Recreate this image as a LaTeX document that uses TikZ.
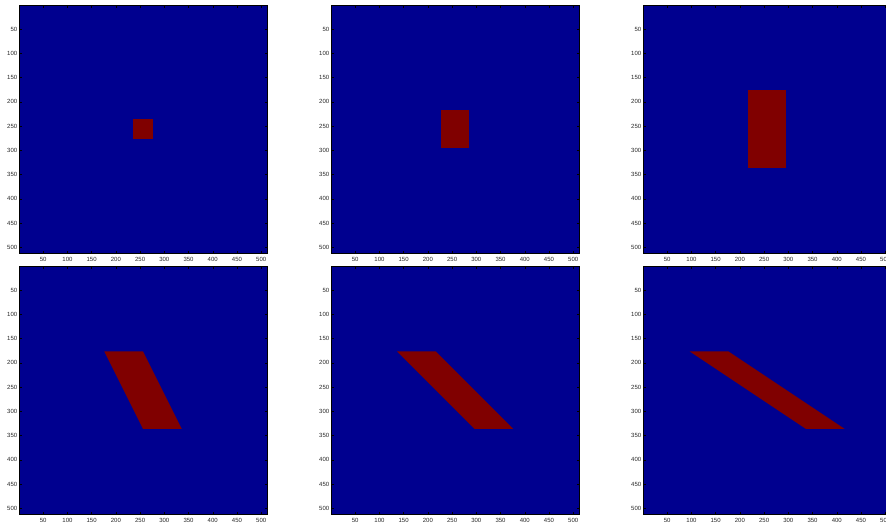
\documentclass[tikz,border=0pt]{standalone}
\usepackage{fontspec}
\setmainfont{Liberation Sans}
\usetikzlibrary{positioning}
\definecolor{jetblue}{RGB}{0,0,143}
\definecolor{jetred}{RGB}{128,0,0}

\begin{document}
\begin{tikzpicture}[x=1pt, y=-1pt,
  frame/.style={draw=black, line width=0.9pt},
  tickmark/.style={draw=black, line width=0.4pt},
  ticklab/.style={font=\fontsize{6}{7}\selectfont, text=black!85, inner sep=0pt}
]
  \useasboundingbox (0,0) rectangle (886,523);
  % one image panel per entry: column/row/corners of the red patch
  \foreach \c/\r/\ax/\bx/\cx/\dx/\ty/\by in {
      0/0/236/276/276/236/236/276,
      1/0/228/284/284/228/216/296,
      2/0/216/296/296/216/176/336,
      0/1/176/256/336/256/176/336,
      1/1/136/216/376/296/176/336,
      2/1/96/176/416/336/176/336}{
    \begin{scope}[shift={(19+312*\c,5+261*\r)}, x=0.484375pt, y=-0.484375pt]
      \fill[jetblue] (0.5,0.5) rectangle (512.5,512.5);
      \fill[jetred] (\ax,\ty) -- (\bx,\ty) -- (\cx,\by) -- (\dx,\by) -- cycle;
      \foreach \t in {50,100,...,500}{
        \draw[tickmark] (\t,512.5) -- ++(0,-5) (\t,0.5) -- ++(0,5);
        \draw[tickmark] (0.5,\t) -- ++(5,0) (512.5,\t) -- ++(-5,0);
        \node[ticklab, anchor=north, yshift=-3.6pt] (xl-\c-\r-\t) at (\t,512.5) {\t};
        \node[ticklab, anchor=east, xshift=-1.8pt] (yl-\c-\r-\t) at (0.5,\t) {\t};
      }
      \draw[frame] (0.5,0.5) rectangle (512.5,512.5);
    \end{scope}
  }
\end{tikzpicture}
\end{document}
